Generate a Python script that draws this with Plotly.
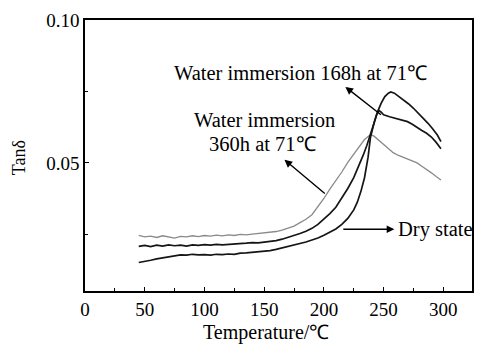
import plotly.graph_objects as go

# ---- data ----
t_360 = [45, 50, 55, 60, 65, 70, 75, 80, 85, 90, 95, 100, 105, 110, 115, 120, 125, 130, 135, 140,
         145, 150, 155, 160, 165, 170, 175, 180, 185, 190, 195, 200, 205, 210, 215, 220, 225, 230,
         234, 237, 239, 242, 246, 250, 254, 258, 262, 266, 270, 274, 278, 282, 286, 290, 294, 298]
tan_360 = [0.0245, 0.0240, 0.0243, 0.0238, 0.0244, 0.0241, 0.0236, 0.0242, 0.0240, 0.0244, 0.0241,
           0.0245, 0.0243, 0.0246, 0.0244, 0.0247, 0.0245, 0.0249, 0.0247, 0.0250, 0.0252, 0.0254,
           0.0256, 0.0259, 0.0264, 0.0270, 0.0278, 0.0290, 0.0302, 0.0318, 0.0345, 0.0375, 0.0408,
           0.0436, 0.0468, 0.0502, 0.0530, 0.0560, 0.0582, 0.0593, 0.0599, 0.0594, 0.0580, 0.0564,
           0.0550, 0.0536, 0.0527, 0.0520, 0.0512, 0.0505, 0.0500, 0.0488, 0.0478, 0.0465, 0.0452,
           0.0440]

t_168 = [45, 50, 55, 60, 65, 70, 75, 80, 85, 90, 95, 100, 105, 110, 115, 120, 125, 130, 135, 140,
         145, 150, 155, 160, 165, 170, 175, 180, 185, 190, 195, 200, 205, 210, 215, 220, 225, 229,
         233, 236, 239, 242, 244, 246, 248, 250, 255, 260, 265, 270, 274, 278, 282, 286, 290, 294, 298]
tan_168 = [0.0207, 0.0210, 0.0206, 0.0211, 0.0208, 0.0212, 0.0209, 0.0211, 0.0208, 0.0212, 0.0210,
           0.0213, 0.0211, 0.0214, 0.0212, 0.0213, 0.0216, 0.0215, 0.0218, 0.0220, 0.0219, 0.0222,
           0.0224, 0.0227, 0.0232, 0.0238, 0.0244, 0.0252, 0.0260, 0.0270, 0.0284, 0.0302, 0.0322,
           0.0344, 0.0376, 0.0410, 0.0448, 0.0487, 0.0528, 0.0562, 0.0598, 0.0640, 0.0668, 0.0684,
           0.0678, 0.0669, 0.0662, 0.0656, 0.0651, 0.0645, 0.0636, 0.0624, 0.0614, 0.0604, 0.0591,
           0.0572, 0.0550]

t_dry = [45, 50, 55, 60, 65, 70, 75, 80, 85, 90, 95, 100, 105, 110, 115, 120, 125, 130, 135, 140,
         145, 150, 155, 160, 165, 170, 175, 180, 185, 190, 195, 200, 205, 210, 215, 220, 225, 228,
         231, 234, 237, 239, 242, 245, 248, 251, 254, 256, 259, 263, 267, 271, 275, 279, 283, 287,
         291, 295, 298]
tan_dry = [0.0150, 0.0153, 0.0158, 0.0163, 0.0166, 0.0171, 0.0174, 0.0177, 0.0176, 0.0179, 0.0177,
           0.0178, 0.0176, 0.0179, 0.0178, 0.0180, 0.0179, 0.0183, 0.0184, 0.0186, 0.0187, 0.0189,
           0.0192, 0.0196, 0.0201, 0.0206, 0.0211, 0.0216, 0.0222, 0.0229, 0.0236, 0.0246, 0.0256,
           0.0268, 0.0284, 0.0305, 0.0335, 0.0362, 0.0400, 0.0448, 0.0520, 0.0590, 0.0640, 0.0680,
           0.0710, 0.0733, 0.0745, 0.0749, 0.0745, 0.0733, 0.0720, 0.0707, 0.0692, 0.0675, 0.0658,
           0.0640, 0.0620, 0.0598, 0.0575]

x_ticks = [0, 50, 100, 150, 200, 250, 300]
y_ticks = [0.05, 0.10]
x_title = "Temperature/℃"
y_title = "Tanδ"
label_168 = "Water immersion 168h at 71℃"
label_360_a = "Water immersion"
label_360_b = "360h at 71℃"
label_dry = "Dry state"

FONT = "Liberation Serif, Times New Roman, serif"

fig = go.Figure()
fig.add_trace(go.Scatter(x=t_360, y=tan_360, mode="lines",
                         line=dict(color="#8a8a8a", width=1.3), showlegend=False))
fig.add_trace(go.Scatter(x=t_168, y=tan_168, mode="lines",
                         line=dict(color="#151515", width=1.7), showlegend=False))
fig.add_trace(go.Scatter(x=t_dry, y=tan_dry, mode="lines",
                         line=dict(color="#151515", width=1.7), showlegend=False))

axis_common = dict(showline=True, mirror=True, linecolor="black", linewidth=1.6,
                   ticks="inside", tickcolor="black", ticklen=4, tickwidth=1.3,
                   showgrid=False, zeroline=False,
                   tickfont=dict(family=FONT, size=19, color="black"))

fig.update_xaxes(range=[0, 324], tickvals=x_ticks,
                 minor=dict(ticks="inside", dtick=25, tick0=0, ticklen=3, tickcolor="black", showgrid=False),
                 **axis_common)
fig.update_yaxes(range=[0.005, 0.1002], tickvals=y_ticks, tickformat=".2f",
                 minor=dict(ticks="inside", dtick=0.025, tick0=0, ticklen=3, tickcolor="black", showgrid=False),
                 **axis_common)

ann_font = dict(family=FONT, size=20.5, color="black")
annotations = [
    dict(x=0.468, y=0, xref="paper", yref="paper", text=x_title, showarrow=False,
         yanchor="middle", xanchor="center", yshift=-41,
         font=dict(family=FONT, size=20, color="black")),
    dict(x=0, y=0.49, xref="paper", yref="paper", text=y_title, showarrow=False,
         xanchor="center", yanchor="middle", xshift=-66, textangle=-90,
         font=dict(family=FONT, size=18, color="black")),
    dict(x=180, y=0.0816, xref="x", yref="y", text=label_168, showarrow=False, font=ann_font),
    dict(x=150, y=0.0651, xref="x", yref="y", text=label_360_a, showarrow=False, font=ann_font),
    dict(x=149, y=0.0567, xref="x", yref="y", text=label_360_b, showarrow=False, font=ann_font),
    dict(x=260, y=0.0267, xref="x", yref="y", text=label_dry, showarrow=False,
         xanchor="left", font=ann_font),
    # arrows (head at x,y; tail at ax,ay)
    dict(x=218, y=0.0767, ax=249, ay=0.0665, xref="x", yref="y", axref="x", ayref="y",
         text="", showarrow=True, arrowhead=2, arrowsize=1.1, arrowwidth=1.4, arrowcolor="black"),
    dict(x=167, y=0.0511, ax=202, ay=0.0388, xref="x", yref="y", axref="x", ayref="y",
         text="", showarrow=True, arrowhead=2, arrowsize=1.1, arrowwidth=1.4, arrowcolor="black"),
    dict(x=259, y=0.0267, ax=215, ay=0.0267, xref="x", yref="y", axref="x", ayref="y",
         text="", showarrow=True, arrowhead=2, arrowsize=1.1, arrowwidth=1.4, arrowcolor="black"),
]

fig.update_layout(width=477, height=344, margin=dict(l=85, r=3, t=20, b=53),
                  plot_bgcolor="white", paper_bgcolor="white",
                  font=dict(family=FONT, color="black"),
                  annotations=annotations)

fig.write_html("out.html")
